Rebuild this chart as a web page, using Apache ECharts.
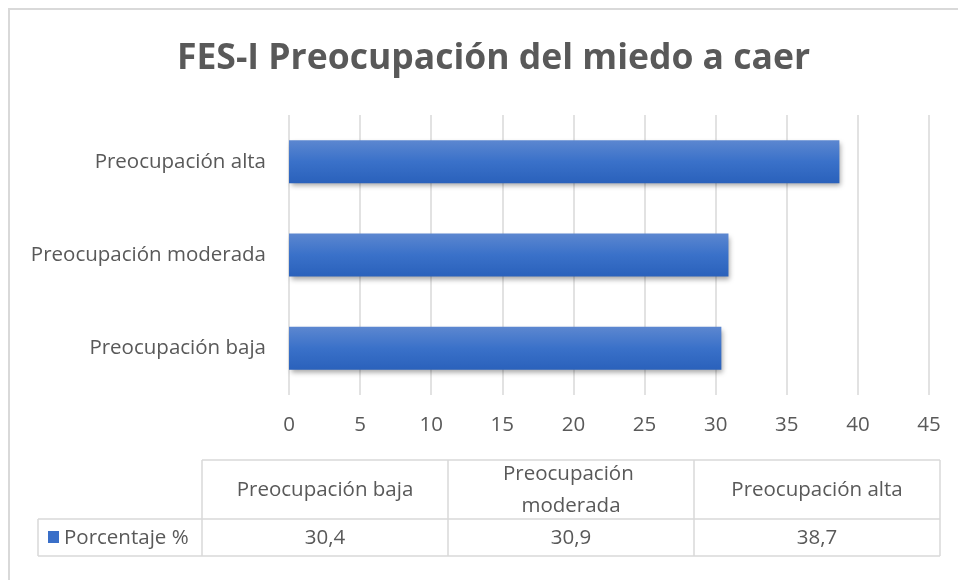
<!DOCTYPE html>
<html>
<head>
<meta charset="utf-8">
<script src="https://cdn.jsdelivr.net/npm/echarts@6/dist/echarts.min.js"></script>
<style>
  html, body { margin: 0; padding: 0; background: #fff; }
  #chart { width: 958px; height: 580px; }
</style>
</head>
<body>
<div id="chart"></div>
<script>
// datos del gráfico
const categories = ['Preocupación baja', 'Preocupación moderada', 'Preocupación alta'];
const porcentaje = [30.4, 30.9, 38.7];
const seriesName = 'Porcentaje %';
const xTicks = [0, 5, 10, 15, 20, 25, 30, 35, 40, 45];

const FONT = '"Open Sans", Lato, sans-serif';
const TEXT = '#595959';
const LINE = '#d9d9d9';
const FS = 20.5;

// tabla de datos (debajo del eje)
const tableLeft = 202;
const tableRight = 940;
const legendLeft = 38;
const rowTop = 460;
const rowMid = 519;
const rowBottom = 556;

function fmt(v) {
  return v.toFixed(1).replace('.', ',');
}

function buildTable() {
  const els = [];
  const colW = (tableRight - tableLeft) / categories.length;
  const lineStyle = { stroke: LINE, lineWidth: 1.5 };
  const hline = (x1, x2, y) => ({ type: 'line', shape: { x1, y1: y, x2, y2: y }, style: lineStyle, silent: true });
  const vline = (x, y1, y2) => ({ type: 'line', shape: { x1: x, y1, x2: x, y2 }, style: lineStyle, silent: true });

  els.push(hline(tableLeft, tableRight, rowTop));
  els.push(hline(legendLeft, tableRight, rowMid));
  els.push(hline(legendLeft, tableRight, rowBottom));
  els.push(vline(legendLeft, rowMid, rowBottom));
  for (let i = 0; i <= categories.length; i++) {
    els.push(vline(tableLeft + colW * i, rowTop, rowBottom));
  }

  categories.forEach((c, i) => {
    const cx = tableLeft + colW * (i + 0.5);
    els.push({
      type: 'text',
      x: cx,
      y: (rowTop + rowMid) / 2 + 1,
      silent: true,
      style: {
        text: c,
        width: 215,
        overflow: 'break',
        align: 'center',
        verticalAlign: 'middle',
        fontFamily: FONT,
        fontSize: FS,
        lineHeight: 32,
        fill: TEXT,
      },
    });
    els.push({
      type: 'text',
      x: cx,
      y: (rowMid + rowBottom) / 2 + 1,
      silent: true,
      style: {
        text: fmt(porcentaje[i]),
        align: 'center',
        verticalAlign: 'middle',
        fontFamily: FONT,
        fontSize: FS,
        fill: TEXT,
      },
    });
  });

  // clave de la leyenda
  els.push({
    type: 'rect',
    shape: { x: 48, y: 531, width: 11, height: 12 },
    style: { fill: '#3a6fc8' },
    silent: true,
  });
  els.push({
    type: 'text',
    x: 64,
    y: (rowMid + rowBottom) / 2 + 1,
    silent: true,
    style: {
      text: seriesName,
      align: 'left',
      verticalAlign: 'middle',
      fontFamily: FONT,
      fontSize: FS,
      fill: TEXT,
    },
  });

  // borde del gráfico
  els.push({
    type: 'rect',
    shape: { x: 9, y: 9, width: 1000, height: 1000 },
    style: { fill: 'none', stroke: LINE, lineWidth: 2 },
    silent: true,
  });
  return els;
}

const chart = echarts.init(document.getElementById('chart'));
chart.setOption({
  backgroundColor: '#fff',
  animation: false,
  title: {
    text: 'FES-I Preocupación del miedo a caer',
    left: 172,
    top: 36,
    textStyle: {
      fontFamily: FONT,
      fontSize: 35.5,
      fontWeight: 'bold',
      color: TEXT,
    },
  },
  grid: {
    left: 289,
    right: 29,
    top: 115,
    bottom: 185,
  },
  xAxis: {
    type: 'value',
    min: xTicks[0],
    max: xTicks[xTicks.length - 1],
    interval: xTicks[1] - xTicks[0],
    axisLine: { show: false },
    axisTick: { show: false },
    splitLine: { lineStyle: { color: LINE, width: 1.5 } },
    axisLabel: {
      margin: 20,
      fontFamily: FONT,
      fontSize: FS,
      color: TEXT,
    },
  },
  yAxis: {
    type: 'category',
    data: categories,
    axisLine: { show: false },
    axisTick: { show: false },
    axisLabel: {
      margin: 23,
      fontFamily: FONT,
      fontSize: FS,
      color: TEXT,
    },
  },
  series: [
    {
      name: seriesName,
      type: 'bar',
      data: porcentaje,
      barWidth: 43,
      itemStyle: {
        color: {
          type: 'linear',
          x: 0, y: 0, x2: 0, y2: 1,
          colorStops: [
            { offset: 0, color: '#5c87d0' },
            { offset: 0.5, color: '#3a71c9' },
            { offset: 1, color: '#2a61bb' },
          ],
        },
        shadowColor: 'rgba(0,0,0,0.35)',
        shadowBlur: 5,
        shadowOffsetX: 2,
        shadowOffsetY: 3,
      },
    },
  ],
  graphic: buildTable(),
});
</script>
</body>
</html>
